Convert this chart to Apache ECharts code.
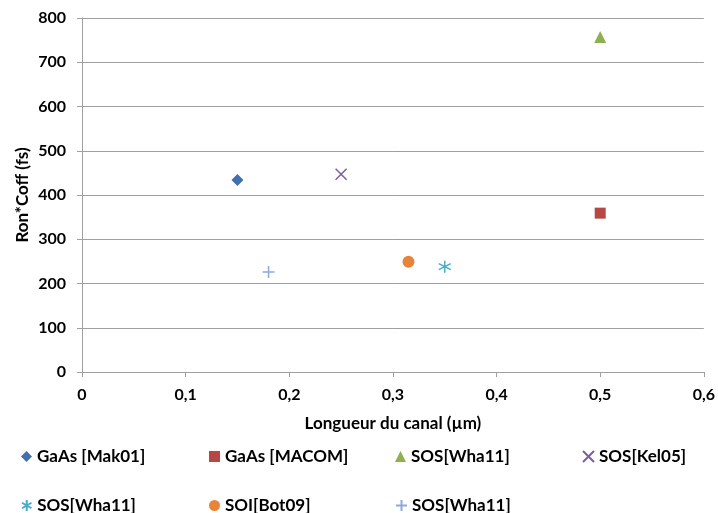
<!DOCTYPE html>
<html><head><meta charset="utf-8">
<script src="https://cdn.jsdelivr.net/npm/echarts@6/dist/echarts.min.js"></script>
<style>html,body{margin:0;padding:0;background:#fff}#c{width:718px;height:513px}</style>
</head><body><div id="c"></div>
<script>
const seriesNames = ['GaAs [Mak01]','GaAs [MACOM]','SOS[Wha11]','SOS[Kel05]','SOS[Wha11]','SOI[Bot09]','SOS[Wha11]'];
const xValues = [0.15, 0.5, 0.5, 0.25, 0.35, 0.315, 0.18];
const yValues = [434, 359, 757, 447, 238, 249, 226];
const xTicks = ['0','0,1','0,2','0,3','0,4','0,5','0,6'];
const colors = ['#4270AE','#B84744','#8FB04E','#7A5E9E','#4BACC6','#E8843A','#8EA9DB'];
const symbols = ['diamond','rect','triangle',
  'path://M0,0L10,10M10,0L0,10',
  'path://M5,0L5,10M0.7,2.5L9.3,7.5M0.7,7.5L9.3,2.5',
  'circle',
  'path://M5,0L5,10M0,5L10,5'];
const stroked = [false,false,false,true,true,false,true];
const sizes = [12,11,12,11,12,12,12];
const legendPos = [[16,443],[204,443],[390,443],[577,443],[16,492],[204,492],[390,492]];

const font = 'Lato, "Open Sans", sans-serif';
const series = seriesNames.map((n,i)=>({
  name: n + '#' + i,
  type: 'scatter',
  symbol: symbols[i],
  symbolSize: sizes[i],
  data: [[xValues[i], yValues[i]]],
  itemStyle: stroked[i] ? {color:'rgba(0,0,0,0)', borderColor: colors[i], borderWidth: 1.5, opacity: 1} : {color: colors[i], opacity: 1},
  emphasis: {disabled: true}
}));
const legends = seriesNames.map((n,i)=>({
  data: [n + '#' + i],
  left: legendPos[i][0], top: legendPos[i][1],
  itemWidth: 11, itemHeight: 11, itemGap: 4,
  formatter: s => s.split('#')[0],
  textStyle: {fontFamily: font, fontSize: 17, color: '#000', fontWeight: 'bold'},
  selectedMode: false
}));
const chart = echarts.init(document.getElementById('c'));
chart.setOption({
  animation: false,
  color: colors,
  grid: {left: 82, right: 11, top: 18, bottom: 141},
  legend: legends,
  xAxis: {
    type: 'value', min: 0, max: 0.6, interval: 0.1,
    name: 'Longueur du canal (µm)', nameLocation: 'middle', nameGap: 43,
    nameTextStyle: {fontFamily: font, fontSize: 17, fontWeight: 'bold', color: '#000'},
    axisLine: {show: true, lineStyle: {color: '#A0A0A0'}},
    axisTick: {show: true, length: 5, lineStyle: {color: '#A0A0A0'}},
    axisLabel: {formatter: (v)=> xTicks[Math.round(v*10)], fontFamily: font, fontSize: 16, fontWeight: 'bold', color: '#000', margin: 15},
    splitLine: {show: false}
  },
  yAxis: {
    type: 'value', min: 0, max: 800, interval: 100,
    name: 'Ron*Coff (fs)', nameLocation: 'middle', nameGap: 51, nameMoveOverlap: false,
    nameTextStyle: {fontFamily: font, fontSize: 17, fontWeight: 'bold', color: '#000'},
    axisLine: {show: true, lineStyle: {color: '#A0A0A0'}},
    axisTick: {show: true, length: 5, lineStyle: {color: '#A0A0A0'}},
    axisLabel: {fontFamily: font, fontSize: 16, fontWeight: 'bold', color: '#000', margin: 16},
    splitLine: {show: true, lineStyle: {color: '#A0A0A0'}}
  },
  series: series
});
</script></body></html>
